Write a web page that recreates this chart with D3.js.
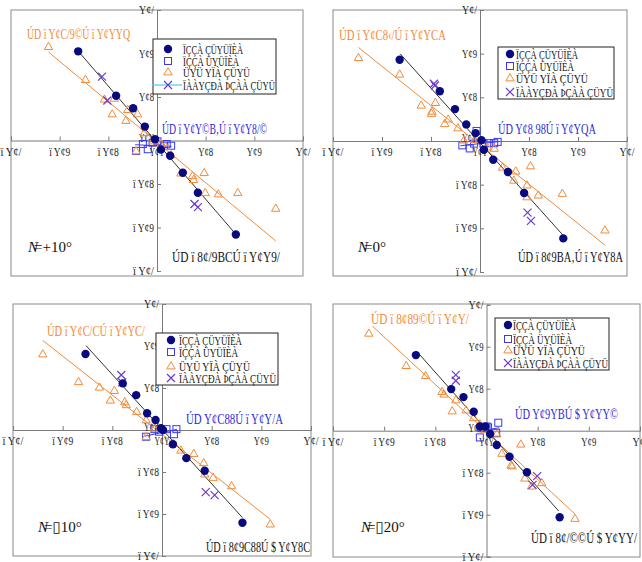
<!DOCTYPE html>
<html><head><meta charset="utf-8">
<script src="https://cdn.jsdelivr.net/npm/d3@7"></script>
<style>body{margin:0;background:#fff}svg{display:block}</style>
</head><body>
<svg id="c" width="642" height="562"></svg>
<script>
// ---------- DATA ----------
const tickValues = [-0.3,-0.2,-0.1,0,0.1,0.2,0.3];
const tickLabels = ["ï Y¢/","ï Y¢9","ï Y¢8","Y¢Y","Y¢8","Y¢9","Y¢/"];
const legendLabels = ["ÏÇÇÀ ÇÜYÜÏÈÀ","ÏÇÇÀ ÜYÜÏÈÀ","ÜYÜ YÏÀ ÇÜYÜ","ÏÀÀYÇÐÀ ÞÇÀÀ ÇÜYÜ"];
const panelTitles = [["+10°"],["0°"],["▯10°"],["▯20°"]];

// panel 1 (+10°)
const circlesP1 = [[-0.162,0.205],[-0.084,0.103],[-0.049,0.074],[-0.025,0.032],[-0.004,0.003],[0.008,-0.021],[0.027,-0.035],[0.053,-0.074],[0.084,-0.120],[0.162,-0.216]];
const squaresP1 = [[-0.043,-0.024],[-0.019,-0.020],[-0.029,-0.008],[-0.009,-0.005],[0.001,-0.002],[0.015,-0.012],[0.020,-0.008],[0.029,-0.012]];
const trianglesP1 = [[-0.223,0.216],[-0.147,0.140],[-0.108,0.095],[-0.088,0.097],[-0.092,0.061],[-0.060,0.071],[-0.064,0.046],[-0.040,0.061],[-0.026,0.018],[-0.007,-0.001],[0.008,-0.008],[0.018,-0.014],[0.029,-0.033],[0.049,-0.075],[0.073,-0.081],[0.075,-0.090],[0.097,-0.074],[0.099,-0.120],[0.126,-0.123],[0.166,-0.120],[0.244,-0.156],[-0.043,-0.024]];
const crossesP1 = [[-0.113,0.147],[-0.102,0.092],[0.077,-0.146],[0.084,-0.153]];
const blackFitP1 = [-1.30,-0.005,-0.162,0.162];
const orangeFitP1 = [-0.93,-0.004,-0.223,0.244];
const blueFitP1 = [-0.05,-0.012,-0.045,0.030];
const equationsP1 = ["ÚD ï Y¢C/9©Ú ï Y¢YYQ","ÚD ï Y¢Y©B‚Ú ï Y¢Y8/©","ÚD ï 8¢/9BCÚ ï Y¢Y9/"];

// panel 2 (0°)
const circlesP2 = [[-0.164,0.186],[-0.082,0.114],[-0.051,0.073],[-0.028,0.038],[-0.009,0.018],[0.003,0.002],[0.008,-0.020],[0.027,-0.043],[0.057,-0.071],[0.090,-0.119],[0.170,-0.223]];
const squaresP2 = [[-0.007,0.023],[-0.036,-0.010],[-0.021,-0.017],[-0.012,-0.006],[0.018,-0.005],[0.029,-0.005],[0.036,-0.002],[0.007,-0.006]];
const trianglesP2 = [[-0.248,0.191],[-0.164,0.153],[-0.120,0.082],[-0.091,0.088],[-0.099,0.063],[-0.098,0.068],[-0.065,0.050],[-0.072,0.040],[-0.045,0.030],[-0.033,0.002],[-0.011,0.003],[0.015,-0.014],[0.029,-0.017],[0.046,-0.060],[0.073,-0.069],[0.069,-0.090],[0.103,-0.057],[0.096,-0.101],[0.096,-0.128],[0.119,-0.124],[0.168,-0.120],[0.255,-0.204]];
const crossesP2 = [[-0.094,0.131],[-0.092,0.127],[0.097,-0.164],[0.104,-0.183]];
const blackFitP2 = [-1.25,-0.004,-0.163,0.170];
const orangeFitP2 = [-0.90,-0.009,-0.248,0.255];
const blueFitP2 = [0.12,-0.006,-0.040,0.040];
const equationsP2 = ["ÚD ï Y¢C8‹/Ú ï Y¢YCA","ÚD Y¢8 98Ú ï Y¢YQA","ÚD ï 8¢9BA‚Ú ï Y¢Y8A"];

// panel 3 (-10°)
const circlesP3 = [[-0.154,0.181],[-0.079,0.111],[-0.052,0.083],[-0.030,0.040],[-0.013,0.024],[-0.002,0.004],[0.002,0.000],[0.022,-0.034],[0.049,-0.067],[0.086,-0.097],[0.162,-0.221]];
const squaresP3 = [[-0.032,-0.016],[-0.015,0.002],[0.009,0.002],[0.029,0.002],[0.024,-0.010],[-0.006,-0.004]];
const trianglesP3 = [[-0.240,0.181],[-0.168,0.115],[-0.126,0.102],[-0.096,0.094],[-0.104,0.071],[-0.075,0.067],[-0.072,0.060],[-0.051,0.044],[-0.032,0.024],[-0.015,0.004],[0.022,-0.032],[0.038,-0.048],[0.064,-0.056],[0.084,-0.078],[0.086,-0.105],[0.103,-0.113],[0.140,-0.133],[0.218,-0.224],[-0.032,-0.016]];
const crossesP3 = [[-0.082,0.131],[-0.080,0.113],[0.088,-0.148],[0.106,-0.155]];
const blackFitP3 = [-1.30,0.002,-0.153,0.162];
const orangeFitP3 = [-0.93,-0.010,-0.240,0.218];
const blueFitP3 = [0.25,-0.006,-0.035,0.030];
const equationsP3 = ["ÚD ï Y¢C/CÚ ï Y¢YC/","ÚD Y¢C88Ú ï Y¢Y/A","ÚD ï 8¢9C88Ú $ Y¢Y8C"];

// panel 4 (-20°)
const circlesP4 = [[-0.138,0.180],[-0.069,0.099],[-0.045,0.080],[-0.025,0.045],[-0.013,0.010],[-0.002,0.010],[0.007,-0.008],[0.020,-0.034],[0.045,-0.062],[0.079,-0.099],[0.143,-0.206]];
const squaresP4 = [[-0.013,-0.016],[0.023,0.019],[0.000,0.010],[0.019,-0.005],[-0.010,0.006],[0.003,0.008]];
const trianglesP4 = [[-0.230,0.232],[-0.157,0.155],[-0.119,0.131],[-0.087,0.093],[-0.083,0.087],[-0.067,0.047],[-0.060,0.073],[-0.040,0.049],[-0.025,0.031],[-0.013,0.016],[-0.003,0.002],[0.020,-0.008],[0.030,-0.054],[0.048,-0.082],[0.050,-0.084],[0.067,-0.032],[0.075,-0.113],[0.088,-0.132],[0.108,-0.124],[0.173,-0.209]];
const crossesP4 = [[-0.060,0.133],[-0.060,0.119],[0.099,-0.108],[0.090,-0.129]];
const blackFitP4 = [-1.37,0.002,-0.137,0.141];
const orangeFitP4 = [-1.13,-0.003,-0.223,0.173];
const blueFitP4 = [0.20,0.002,-0.015,0.025];
const equationsP4 = ["ÚD ï 8¢89©Ú ï Y¢Y/","ÚD Y¢9YBÚ $ Y¢YY©","ÚD ï 8¢/©©Ú $ Y¢YY/"];

// ---------- LAYOUT ----------
const C = {navy:"#0a0a80", blue:"#3a3af0", orange:"#f28a3a", purple:"#6a3cd0", black:"#333"};
const panels = [
  {f:[11,10,303,276], yr:[271,10], data:[circlesP1,squaresP1,trianglesP1,crossesP1], fits:[orangeFitP1,blueFitP1,blackFitP1], eq:equationsP1,
   eqPos:[[27,39,103],[162,134,105],[172,262,108]], leg:[153,39,123,55], legRows:[49,61,72,85], legSym:168, legTxt:183, legW:[60,56,67,92], cyan:true,
   title:[28,252,44]},
  {f:[333,10,627,276], yr:[272,10], data:[circlesP2,squaresP2,trianglesP2,crossesP2], fits:[orangeFitP2,blueFitP2,blackFitP2], eq:equationsP2,
   eqPos:[[339,40,107],[498,134,98],[518,262,105]], leg:[498,47,116,52], legRows:[54,66,78,92], legSym:510, legTxt:516, legW:[62,58,72,97],
   title:[358,252,30]},
  {f:[13,304,311,556], yr:[556,304], data:[circlesP3,squaresP3,trianglesP3,crossesP3], fits:[orangeFitP3,blueFitP3,blackFitP3], eq:equationsP3,
   eqPos:[[47,336,98],[186,424,97],[206,552,104]], leg:[156,333,122,52], legRows:[340,352,366,378], legSym:171, legTxt:179, legW:[63,59,71,97],
   title:[38,532,52]},
  {f:[333,304,640,557], yr:[556.7,304.7], data:[circlesP4,squaresP4,trianglesP4,crossesP4], fits:[orangeFitP4,blueFitP4,blackFitP4], eq:equationsP4,
   eqPos:[[371,324,98],[515,419,103],[531,543,106]], leg:[495,318,114,52], legRows:[325,339,350,363], legSym:508, legTxt:513, legW:[63,59,72,95],
   title:[361,532,50]}
];

const svg = d3.select("#c");
const serif = "'Liberation Serif','DejaVu Serif',serif";

function sym(g, type, x, y) {
  if (type===0) g.append("circle").attr("cx",x).attr("cy",y).attr("r",4.2).attr("fill",C.navy);
  else if (type===1) g.append("rect").attr("x",x-3.5).attr("y",y-3.5).attr("width",7).attr("height",7).attr("fill","none").attr("stroke",C.blue).attr("stroke-width",1);
  else if (type===2) g.append("path").attr("d",d3.symbol(d3.symbolTriangle,30)()).attr("transform",`translate(${x},${y+0.5})`).attr("fill","none").attr("stroke",C.orange).attr("stroke-width",1);
  else g.append("path").attr("d",`M${x-4},${y-4}L${x+4},${y+4}M${x-4},${y+4}L${x+4},${y-4}`).attr("stroke",C.purple).attr("stroke-width",1.2);
}

panels.forEach((p,i)=>{
  const g = svg.append("g");
  const [fl,ft,fr,fb] = p.f;
  const x = d3.scaleLinear().domain([-0.3,0.3]).range([fl,fr]);
  const y = d3.scaleLinear().domain([-0.3,0.3]).range(p.yr);
  g.append("rect").attr("x",fl).attr("y",ft).attr("width",fr-fl).attr("height",fb-ft).attr("fill","none").attr("stroke","#8a8a8a").attr("stroke-width",1);
  const xAxis = d3.axisBottom(x).tickValues(tickValues).tickSize(-4).tickFormat("");
  const yAxis = d3.axisLeft(y).tickValues(tickValues).tickSize(-4).tickFormat("");
  const xa = g.append("g").attr("transform",`translate(0,${y(0)})`).call(xAxis);
  const ya = g.append("g").attr("transform",`translate(${x(0)},0)`).call(yAxis);
  [xa,ya].forEach(a=>{a.select(".domain").attr("stroke","#7a7a7a"); a.selectAll(".tick line").attr("stroke","#7a7a7a");});
  tickValues.forEach((v,k)=>{
    const lab = tickLabels[k];
    const w = lab.length>3 ? 21 : 15;
    g.append("text").attr("x",x(v)).attr("y",y(0)+15).attr("text-anchor","middle")
      .attr("font-family",serif).attr("font-size",13).attr("fill","#222")
      .attr("textLength",w).attr("lengthAdjust","spacingAndGlyphs").text(lab);
    g.append("text").attr("x",x(0)-3).attr("y",y(v)+(v===0?1:4)).attr("text-anchor","end")
      .attr("font-family",serif).attr("font-size",13).attr("fill","#222")
      .attr("textLength",w).attr("lengthAdjust","spacingAndGlyphs").text(lab);
  });
  const fitCols = [C.orange, C.blue, C.black];
  p.fits.forEach((f,k)=>{
    const [m,b,x0,x1] = f;
    g.append("line").attr("x1",x(x0)).attr("y1",y(m*x0+b)).attr("x2",x(x1)).attr("y2",y(m*x1+b))
      .attr("stroke",fitCols[k]).attr("stroke-width",1);
  });
  [1,2,3,0].forEach(t=>{
    p.data[t].forEach(d=>sym(g,t,x(d[0]),y(d[1])));
  });
  const eqCols = [C.orange, "#2a2ad8", "#111"];
  p.eq.forEach((s,k)=>{
    const [ex,ey,ew] = p.eqPos[k];
    g.append("text").attr("x",ex).attr("y",ey).attr("font-family",serif).attr("font-size",14)
      .attr("fill",eqCols[k]).attr("textLength",ew).attr("lengthAdjust","spacingAndGlyphs").text(s);
  });
  const [lx,ly,lw,lh] = p.leg;
  g.append("rect").attr("x",lx).attr("y",ly).attr("width",lw).attr("height",lh).attr("fill","#fff").attr("stroke","#222").attr("stroke-width",1);
  if (p.cyan) g.append("line").attr("x1",lx-1).attr("x2",p.legTxt-1).attr("y1",p.legRows[3]).attr("y2",p.legRows[3]).attr("stroke","#3fd0f0").attr("stroke-width",1.2);
  legendLabels.forEach((s,k)=>{
    sym(g,k,p.legSym,p.legRows[k]);
    g.append("text").attr("x",p.legTxt).attr("y",p.legRows[k]+4.5).attr("font-family",serif).attr("font-size",13)
      .attr("fill","#111").attr("textLength",p.legW[k]).attr("lengthAdjust","spacingAndGlyphs").text(s);
  });
  const [tx,ty] = p.title;
  const t = g.append("text").attr("x",tx).attr("y",ty).attr("font-family",serif).attr("font-size",15).attr("fill","#111");
  t.append("tspan").attr("font-style","italic").text("N");
  t.append("tspan").attr("dx",-4).text("=" + panelTitles[i][0]);
});
</script>
</body></html>
